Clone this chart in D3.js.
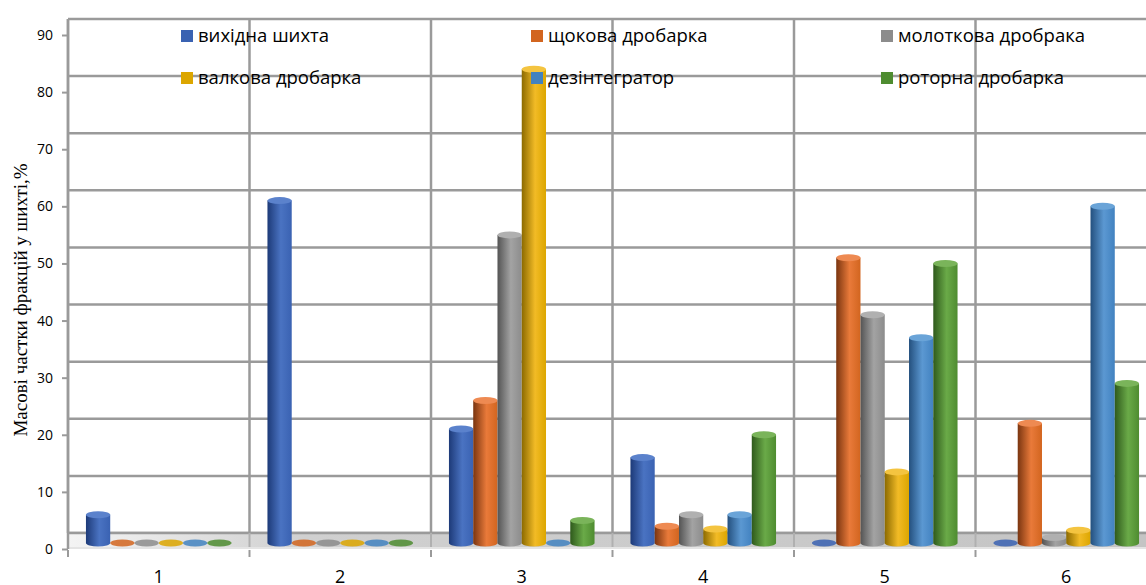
<!DOCTYPE html>
<html>
  <head>
    <meta charset="UTF-8">
    <style>
      body { margin: 0; background: #fff; }
      text { font-family: "Open Sans", "Noto Sans", sans-serif; fill: #000; }
      .y-axis text { font-size: 14px; }
      .y-axis .tick line { stroke: #9a9a9a; stroke-width: 2; }
      .x-axis text { font-size: 18px; }
      .legend text { font-size: 18.5px; }
      .title { font-family: "Liberation Serif", "DejaVu Serif", serif; font-size: 19px; }
    </style>
    <script src="https://d3js.org/d3.v7.min.js"></script>
  </head>
  <body>
    <svg id="chart"></svg>
    <script>
      let categories = ['1', '2', '3', '4', '5', '6']
      let series = ['вихідна шихта', 'щокова дробарка', 'молоткова дробрака',
                    'валкова дробарка', 'дезінтегратор', 'роторна дробарка']
      let vykhidna = [6, 61, 21, 16, 0, 0]
      let shchokova = [0, 0, 26, 4, 51, 22]
      let molotkova = [0, 0, 55, 6, 41, 2]
      let valkova = [0, 0, 84, 3.5, 13.5, 3.3]
      let dezintegrator = [0, 0, 0, 6, 37, 60]
      let rotorna = [0, 0, 5, 20, 50, 29]
      let yTicks = [0, 10, 20, 30, 40, 50, 60, 70, 80, 90]

      let values = [vykhidna, shchokova, molotkova, valkova, dezintegrator, rotorna]
      // dark edge, light middle, right edge, top cap
      let colors = [
        ['#1d3a78', '#4a73c2', '#3a62b2', '#5b82cc'],
        ['#7a3510', '#e97a3a', '#d2651f', '#ee8a52'],
        ['#545454', '#a3a3a3', '#8c8c8c', '#b0b0b0'],
        ['#8c6a00', '#f2bb26', '#dca600', '#f4c440'],
        ['#24507e', '#5b98d2', '#4282c0', '#6aa4d8'],
        ['#2f5a1c', '#6aaa48', '#4e8c30', '#7ab45a']
      ]

      let width = 1146, height = 585
      let svg = d3.select('#chart').attr('width', width).attr('height', height)

      let depth = 16
      let x0 = d3.scaleBand().domain(categories).range([68, 68 + 6 * 181.5])
      let x1 = d3.scaleBand().domain(series).range([0, x0.bandwidth()]).paddingOuter(0.74)
      let y = d3.scaleLinear().domain([0, 90]).range([549, 35])
      let baseY = 543
      let ry = 3.5

      let defs = svg.append('defs')
      colors.forEach((c, i) => {
        let g = defs.append('linearGradient').attr('id', 'cyl' + i)
        g.append('stop').attr('offset', '0%').attr('stop-color', c[0])
        g.append('stop').attr('offset', '55%').attr('stop-color', c[1])
        g.append('stop').attr('offset', '100%').attr('stop-color', c[2])
      })
      let fg = defs.append('linearGradient').attr('id', 'floor')
      fg.append('stop').attr('offset', '0%').attr('stop-color', '#f4f4f4')
      fg.append('stop').attr('offset', '22%').attr('stop-color', '#d0d0d0')
      fg.append('stop').attr('offset', '100%').attr('stop-color', '#c4c4c4')

      // back wall grid
      svg.append('g')
        .selectAll('line')
        .data(yTicks)
        .join('line')
        .attr('x1', 68).attr('x2', width)
        .attr('y1', d => y(d) - depth).attr('y2', d => y(d) - depth)
        .attr('stroke', '#9a9a9a').attr('stroke-width', 2.5)

      svg.append('g')
        .selectAll('line')
        .data(categories)
        .join('line')
        .attr('x1', d => x0(d)).attr('x2', d => x0(d))
        .attr('y1', y(90) - depth).attr('y2', y(0) - depth)
        .attr('stroke', '#9a9a9a').attr('stroke-width', 2.5)

      // floor
      svg.append('rect')
        .attr('x', 68).attr('y', y(0) - depth)
        .attr('width', width - 68).attr('height', depth - 2)
        .attr('fill', 'url(#floor)')
      svg.append('line')
        .attr('x1', 68).attr('x2', width)
        .attr('y1', y(0) - depth).attr('y2', y(0) - depth)
        .attr('stroke', '#9a9a9a').attr('stroke-width', 2.5)
      svg.append('line')
        .attr('x1', 68).attr('x2', width)
        .attr('y1', y(0) - 1).attr('y2', y(0) - 1)
        .attr('stroke', '#e4e4e4').attr('stroke-width', 2)
      svg.append('g')
        .selectAll('line')
        .data(categories)
        .join('line')
        .attr('x1', d => x0(d)).attr('x2', d => x0(d))
        .attr('y1', y(0) - depth).attr('y2', y(0) - 2)
        .attr('stroke', '#b0b0b0').attr('stroke-width', 2)

      // y axis
      svg.append('g')
        .attr('class', 'y-axis')
        .attr('transform', 'translate(68,0)')
        .call(d3.axisLeft(y).tickValues(yTicks).tickSize(6).tickPadding(9))
        .call(g => g.select('.domain').remove())
      svg.append('line')
        .attr('x1', 68).attr('x2', 68)
        .attr('y1', y(90) - depth).attr('y2', y(0))
        .attr('stroke', '#9a9a9a').attr('stroke-width', 2.5)

      // category axis
      let xAxis = svg.append('g').attr('class', 'x-axis')
      xAxis.selectAll('line')
        .data(categories)
        .join('line')
        .attr('x1', d => x0(d)).attr('x2', d => x0(d))
        .attr('y1', 550).attr('y2', 557)
        .attr('stroke', '#9a9a9a').attr('stroke-width', 2)
      xAxis.selectAll('text')
        .data(categories)
        .join('text')
        .attr('x', d => x0(d) + x0.bandwidth() / 2)
        .attr('y', 583)
        .attr('text-anchor', 'middle')
        .text(d => d)

      // cylinders
      let bars = []
      categories.forEach((c, ci) => {
        series.forEach((s, si) => {
          bars.push({ cat: c, ser: s, si, value: values[si][ci] })
        })
      })

      let bw = x1.bandwidth()
      let bar = svg.append('g')
        .selectAll('g')
        .data(bars)
        .join('g')
        .attr('transform', d => `translate(${x0(d.cat) + x1(d.ser)},0)`)

      bar.filter(d => d.value > 0)
        .append('path')
        .attr('d', d => {
          let top = Math.min(y(d.value), baseY)
          return `M0,${top} L0,${baseY} A${bw / 2},${ry} 0 0 0 ${bw},${baseY} L${bw},${top} Z`
        })
        .attr('fill', d => `url(#cyl${d.si})`)

      bar.append('ellipse')
        .attr('cx', bw / 2)
        .attr('cy', d => d.value > 0 ? Math.min(y(d.value), baseY) : baseY)
        .attr('rx', bw / 2)
        .attr('ry', ry)
        .attr('fill', d => d.value > 0 ? colors[d.si][3] : colors[d.si][2])
        .attr('opacity', d => d.value > 0 ? 1 : 0.85)

      // legend
      let legendPos = [[181, 36], [531, 36], [881, 36], [181, 78], [531, 78], [881, 78]]
      let legend = svg.append('g')
        .attr('class', 'legend')
        .selectAll('g')
        .data(series)
        .join('g')
        .attr('transform', (d, i) => `translate(${legendPos[i][0]},${legendPos[i][1]})`)
      legend.append('rect')
        .attr('x', 0).attr('y', -6)
        .attr('width', 12).attr('height', 12)
        .attr('fill', (d, i) => colors[i][2])
      legend.append('text')
        .attr('x', 17).attr('y', 6)
        .text(d => d)

      // y title
      svg.append('text')
        .attr('class', 'title')
        .attr('transform', `translate(27,${300}) rotate(-90)`)
        .attr('text-anchor', 'middle')
        .text('Масові частки фракцій у шихті,%')
    </script>
  </body>
</html>
